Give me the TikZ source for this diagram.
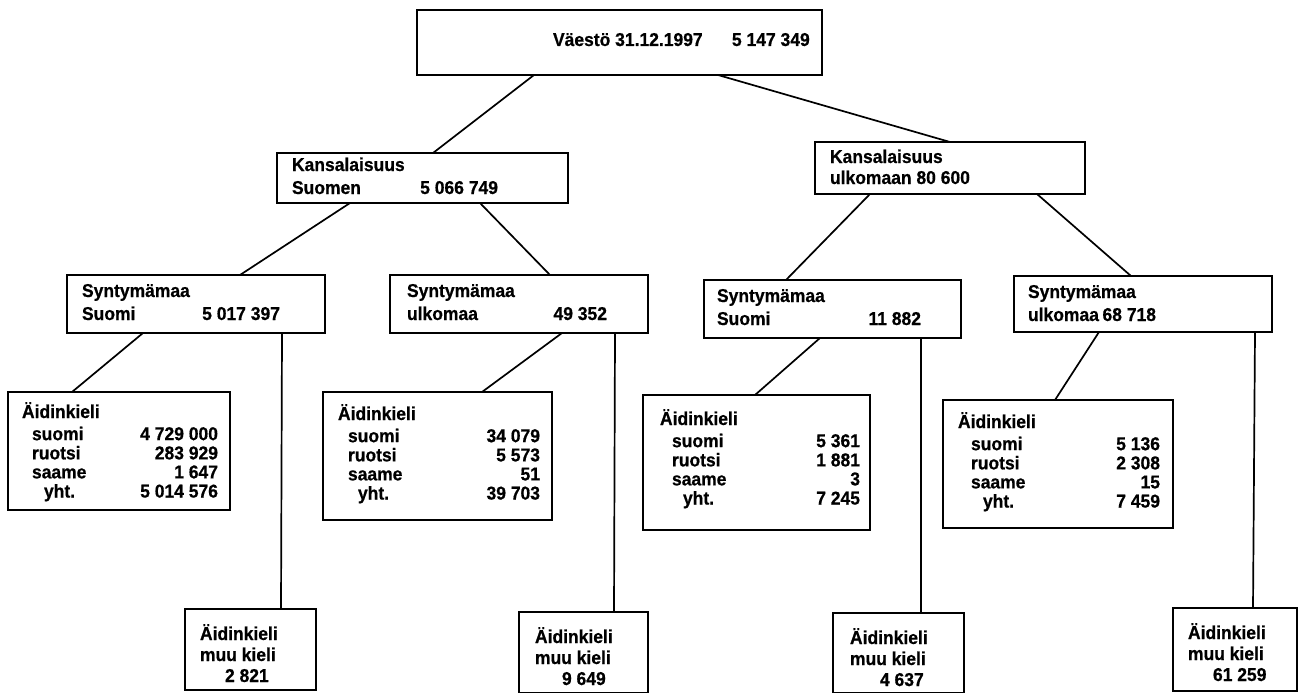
\documentclass[tikz,border=0pt]{standalone}
\usepackage{fontspec}
\setmainfont{Liberation Sans}[FakeStretch=0.94, BoldFeatures={FakeBold=0.6}]
\newcommand{\rw}[3]{\makebox[#1][l]{#2\hfill#3}}
\begin{document}
\begin{tikzpicture}[x=1pt,y=-1pt,
  box/.style={draw, rectangle, line width=1.7pt, inner sep=0pt, outer sep=0pt, anchor=north west},
  txt/.style={inner sep=0pt, outer sep=0pt, anchor=base west, font=\fontsize{18.6}{23}\selectfont\bfseries},
  txtb/.style={txt, font=\fontsize{18.6}{19}\selectfont\bfseries},
  txtc/.style={txt, font=\fontsize{18.6}{21}\selectfont\bfseries},
  link/.style={line width=1.7pt}]
\useasboundingbox (0,0) rectangle (1301,693);
% level 0
\node[box, minimum width=405pt, minimum height=65pt] (T) at (417,10) {};
\node[txt] (Tt) at (553,46) {\makebox[179pt][l]{Väestö 31.12.1997}5 147 349};
% level 1
\node[box, minimum width=291pt, minimum height=50pt] (KS) at (277,153) {};
\node[txt] (KSt) at (292,171) {\begin{tabular}[t]{@{}l@{}}Kansalaisuus\\ \rw{206pt}{Suomen}{5 066 749}\end{tabular}};
\node[box, minimum width=270pt, minimum height=52pt] (KU) at (815,142) {};
\node[txtc] (KUt) at (830,163) {\begin{tabular}[t]{@{}l@{}}Kansalaisuus\\ ulkomaan 80 600\end{tabular}};
% level 2
\node[box, minimum width=258pt, minimum height=58pt] (L1) at (67,275) {};
\node[txt] (L1t) at (82,297) {\begin{tabular}[t]{@{}l@{}}Syntymämaa\\ \rw{198pt}{Suomi}{5 017 397}\end{tabular}};
\node[box, minimum width=258pt, minimum height=58pt] (L2) at (390,275) {};
\node[txt] (L2t) at (407,297) {\begin{tabular}[t]{@{}l@{}}Syntymämaa\\ \rw{200pt}{ulkomaa}{49 352}\end{tabular}};
\node[box, minimum width=257pt, minimum height=58pt] (R1) at (704,280) {};
\node[txt] (R1t) at (717,302) {\begin{tabular}[t]{@{}l@{}}Syntymämaa\\ \rw{204pt}{Suomi}{11 882}\end{tabular}};
\node[box, minimum width=258pt, minimum height=56pt] (R2) at (1014,276) {};
\node[txt] (R2t) at (1028,298) {\begin{tabular}[t]{@{}l@{}}Syntymämaa\\ \rw{128pt}{ulkomaa}{68 718}\end{tabular}};
% level 3: mother tongue tables
\node[box, minimum width=222pt, minimum height=118pt] (A1) at (8,392) {};
\node[txtb] (A1t) at (22,418) {\begin{tabular}[t]{@{}l@{}}Äidinkieli\\[3pt]
 \rw{196pt}{\hspace{10pt}suomi}{4 729 000}\\
 \rw{196pt}{\hspace{10pt}ruotsi}{283 929}\\
 \rw{196pt}{\hspace{10pt}saame}{1 647}\\
 \rw{196pt}{\hspace{22pt}yht.}{5 014 576}\end{tabular}};
\node[box, minimum width=229pt, minimum height=128pt] (A2) at (323,392) {};
\node[txtb] (A2t) at (338,420) {\begin{tabular}[t]{@{}l@{}}Äidinkieli\\[3pt]
 \rw{202pt}{\hspace{10pt}suomi}{34 079}\\
 \rw{202pt}{\hspace{10pt}ruotsi}{5 573}\\
 \rw{202pt}{\hspace{10pt}saame}{51}\\
 \rw{202pt}{\hspace{20pt}yht.}{39 703}\end{tabular}};
\node[box, minimum width=227pt, minimum height=135pt] (A3) at (643,395) {};
\node[txtb] (A3t) at (660,425) {\begin{tabular}[t]{@{}l@{}}Äidinkieli\\[3pt]
 \rw{200pt}{\hspace{12pt}suomi}{5 361}\\
 \rw{200pt}{\hspace{12pt}ruotsi}{1 881}\\
 \rw{200pt}{\hspace{12pt}saame}{3}\\
 \rw{200pt}{\hspace{23pt}yht.}{7 245}\end{tabular}};
\node[box, minimum width=230pt, minimum height=128pt] (A4) at (943,400) {};
\node[txtb] (A4t) at (958,428) {\begin{tabular}[t]{@{}l@{}}Äidinkieli\\[3pt]
 \rw{202pt}{\hspace{13pt}suomi}{5 136}\\
 \rw{202pt}{\hspace{13pt}ruotsi}{2 308}\\
 \rw{202pt}{\hspace{13pt}saame}{15}\\
 \rw{202pt}{\hspace{25pt}yht.}{7 459}\end{tabular}};
% level 4: other languages
\node[box, minimum width=131pt, minimum height=81pt] (B1) at (185,609) {};
\node[txtc] (B1t) at (200,640) {\begin{tabular}[t]{@{}l@{}}Äidinkieli\\ muu kieli\\ \hspace{25pt}2 821\end{tabular}};
\node[box, minimum width=129pt, minimum height=81pt] (B2) at (519,612) {};
\node[txtc] (B2t) at (535,643) {\begin{tabular}[t]{@{}l@{}}Äidinkieli\\ muu kieli\\ \hspace{27pt}9 649\end{tabular}};
\node[box, minimum width=131pt, minimum height=80pt] (B3) at (833,613) {};
\node[txtc] (B3t) at (850,644) {\begin{tabular}[t]{@{}l@{}}Äidinkieli\\ muu kieli\\ \hspace{30pt}4 637\end{tabular}};
\node[box, minimum width=124pt, minimum height=83pt] (B4) at (1173,608) {};
\node[txtc] (B4t) at (1188,639) {\begin{tabular}[t]{@{}l@{}}Äidinkieli\\ muu kieli\\ \hspace{25pt}61 259\end{tabular}};
% connectors
\draw[link] ([xshift=117pt]T.south west) -- ([xshift=156pt]KS.north west);
\draw[link] ([xshift=301pt]T.south west) -- ([xshift=135pt]KU.north west);
\draw[link] ([xshift=73pt]KS.south west) -- ([xshift=173pt]L1.north west);
\draw[link] ([xshift=203pt]KS.south west) -- ([xshift=160pt]L2.north west);
\draw[link] ([xshift=55pt]KU.south west) -- ([xshift=82pt]R1.north west);
\draw[link] ([xshift=222pt]KU.south west) -- ([xshift=117pt]R2.north west);
\draw[link] ([xshift=76pt]L1.south west) -- ([xshift=64pt]A1.north west);
\draw[link] ([xshift=215pt]L1.south west) -- ([xshift=96pt]B1.north west);
\draw[link] ([xshift=172pt]L2.south west) -- ([xshift=159pt]A2.north west);
\draw[link] ([xshift=225pt]L2.south west) -- ([xshift=95pt]B2.north west);
\draw[link] ([xshift=116pt]R1.south west) -- ([xshift=112pt]A3.north west);
\draw[link] ([xshift=217pt]R1.south west) -- ([xshift=88pt]B3.north west);
\draw[link] ([xshift=85pt]R2.south west) -- ([xshift=112pt]A4.north west);
\draw[link] ([xshift=241pt]R2.south west) -- ([xshift=80pt]B4.north west);
\end{tikzpicture}
\end{document}
